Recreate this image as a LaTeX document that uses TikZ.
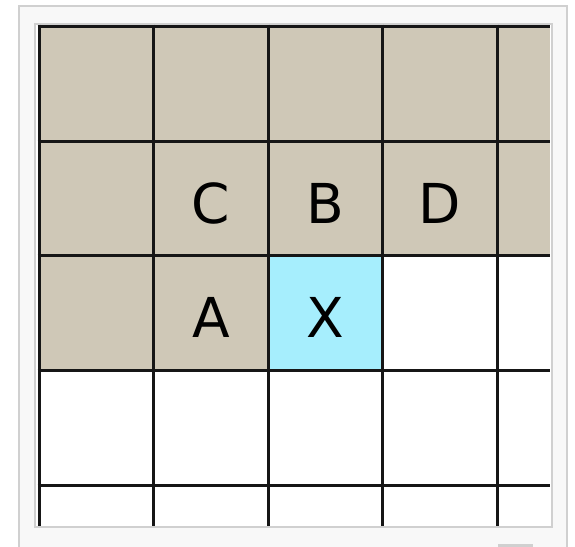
\documentclass[tikz,border=0pt]{standalone}
\usepackage{fontspec}
\setmainfont{DejaVu Sans}
\definecolor{grd@sand}{RGB}{207,200,183}
\definecolor{grd@cyan}{RGB}{166,238,253}
\definecolor{grd@frame}{RGB}{208,208,208}
\definecolor{grd@paper}{RGB}{248,248,248}
\definecolor{grd@line}{RGB}{22,22,22}

\begin{document}
\begin{tikzpicture}[x=1pt,y=-1pt,
  frame/.style={draw=grd@frame,line width=2.6pt},
  gline/.style={grd@line,line width=3pt},
  letter/.style={font=\fontsize{55}{55}\selectfont,inner sep=0pt,anchor=center}
]
\useasboundingbox (0,0) rectangle (575,546);
\draw[frame,fill=grd@paper] (19,6) rectangle (567,560);
\draw[frame,fill=white] (35,24) rectangle (552,527);
\fill[grd@frame] (498,544) rectangle (533,548);

% shaded cells
\fill[grd@sand] (39,26) rectangle (550,255);
\fill[grd@sand] (39,255) rectangle (268,370);
\fill[grd@cyan] (268,255) rectangle (382.5,370);

% grid lines
\foreach \gx in {39,153.5,268,382.5,497}
  \draw[gline] (\gx,24.5) -- (\gx,526);
\foreach \gy in {26,141,255,370,485}
  \draw[gline] (37.5,\gy) -- (550,\gy);

\node[letter] (c) at (211,203) {C};
\node[letter] (b) at (325.5,203) {B};
\node[letter] (d) at (440,203) {D};
\node[letter] (a) at (211,317) {A};
\node[letter] (x) at (325.5,317) {X};
\end{tikzpicture}
\end{document}
